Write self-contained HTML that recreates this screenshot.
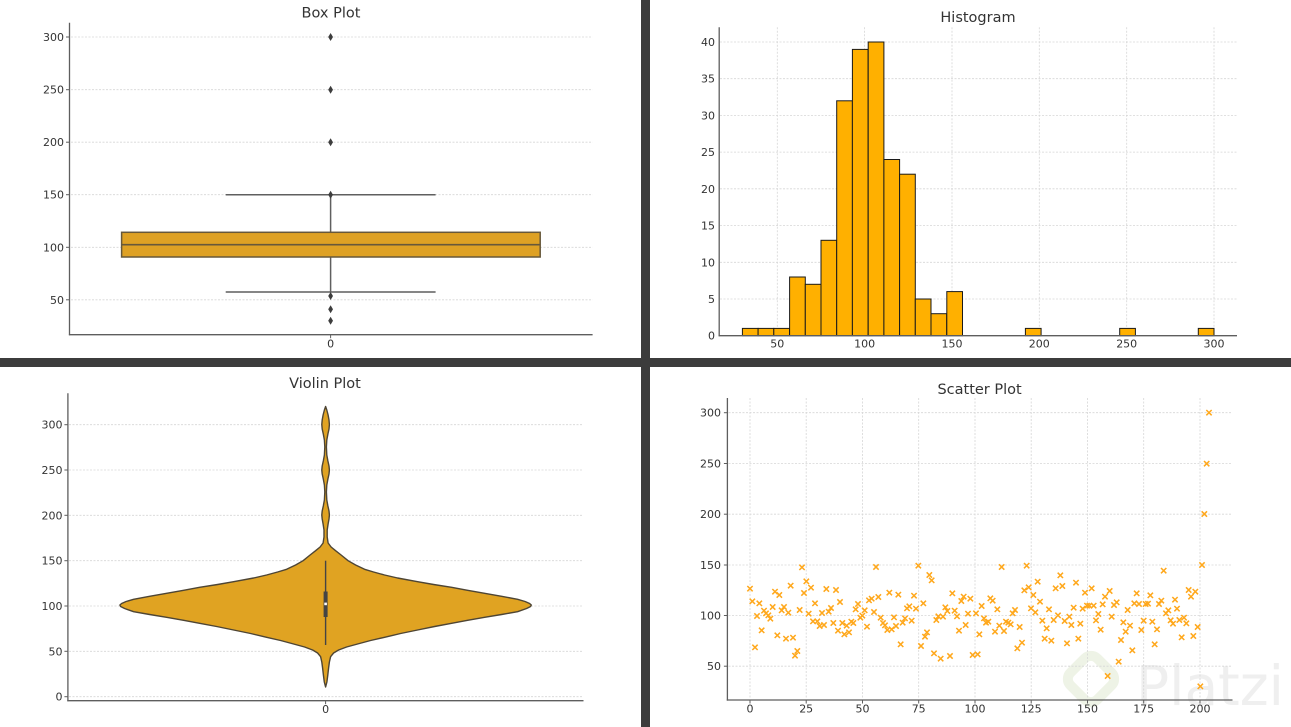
<!DOCTYPE html>
<html><head><meta charset="utf-8">
<style>
html,body{margin:0;padding:0;background:#fff;}
svg{display:block;}
text{font-family:"DejaVu Sans","Liberation Sans",sans-serif;fill:#333;}
.tk{font-size:11px;}
.ti{font-size:14.5px;}
.g{stroke:#d6d6d6;stroke-width:0.8;stroke-dasharray:2,1.5;fill:none;}
.sp{stroke:#5e5e5e;stroke-width:1.3;fill:none;}
.tm{stroke:#5e5e5e;stroke-width:1;}
</style></head>
<body>
<svg width="1291" height="727" viewBox="0 0 1291 727" xmlns="http://www.w3.org/2000/svg">
<defs>
<marker id="mx" markerUnits="userSpaceOnUse" markerWidth="24" markerHeight="24" viewBox="-12 -12 24 24" refX="0" refY="0" overflow="visible">
<path d="M-8,-8 L8,8 M8,-8 L-8,8" stroke="#ffa81c" stroke-width="4.6" fill="none"/>
</marker>
</defs>
<rect x="0" y="0" width="1291" height="727" fill="#fff"/>

<!-- ============ BOX PLOT ============ -->
<g>
<text class="ti" x="331" y="17.5" text-anchor="middle">Box Plot</text>
<line class="g" x1="71" y1="37" x2="592.6" y2="37"/>
<line class="g" x1="71" y1="89.7" x2="592.6" y2="89.7"/>
<line class="g" x1="71" y1="142.2" x2="592.6" y2="142.2"/>
<line class="g" x1="71" y1="194.7" x2="592.6" y2="194.7"/>
<line class="g" x1="71" y1="247.3" x2="592.6" y2="247.3"/>
<line class="g" x1="71" y1="299.8" x2="592.6" y2="299.8"/>
<g class="tk" text-anchor="end">
<text x="64" y="41">300</text>
<text x="64" y="93.7">250</text>
<text x="64" y="146.2">200</text>
<text x="64" y="198.7">150</text>
<text x="64" y="251.3">100</text>
<text x="64" y="303.8">50</text>
</g>
<g class="tm">
<line x1="66" y1="37" x2="69.5" y2="37"/><line x1="66" y1="89.7" x2="69.5" y2="89.7"/>
<line x1="66" y1="142.2" x2="69.5" y2="142.2"/><line x1="66" y1="194.7" x2="69.5" y2="194.7"/>
<line x1="66" y1="247.3" x2="69.5" y2="247.3"/><line x1="66" y1="299.8" x2="69.5" y2="299.8"/>
<line x1="330.6" y1="334.7" x2="330.6" y2="338.2"/>
</g>
<text class="tk" x="330.6" y="347.5" text-anchor="middle">0</text>
<!-- whiskers -->
<line x1="330.6" y1="194.7" x2="330.6" y2="232.3" stroke="#5f5f5f" stroke-width="1.5"/>
<line x1="330.6" y1="257" x2="330.6" y2="292" stroke="#5f5f5f" stroke-width="1.5"/>
<line x1="225.7" y1="194.7" x2="435.6" y2="194.7" stroke="#5f5f5f" stroke-width="1.5"/>
<line x1="225.7" y1="292" x2="435.6" y2="292" stroke="#5f5f5f" stroke-width="1.5"/>
<rect x="121.6" y="232.3" width="418.6" height="24.7" fill="#dea124" stroke="#67583a" stroke-width="1.5"/>
<line x1="121.6" y1="244.7" x2="540.2" y2="244.7" stroke="#67583a" stroke-width="1.6"/>
<!-- outliers -->
<g fill="#3d3d3d">
<path d="M330.6,33 L333,37 L330.6,41 L328.2,37Z"/>
<path d="M330.6,85.7 L333,89.7 L330.6,93.7 L328.2,89.7Z"/>
<path d="M330.6,138.2 L333,142.2 L330.6,146.2 L328.2,142.2Z"/>
<path d="M330.6,190.7 L333,194.7 L330.6,198.7 L328.2,194.7Z"/>
<path d="M330.6,292 L333,296 L330.6,300 L328.2,296Z"/>
<path d="M330.6,305.3 L333,309.3 L330.6,313.3 L328.2,309.3Z"/>
<path d="M330.6,316.7 L333,320.7 L330.6,324.7 L328.2,320.7Z"/>
</g>
<line class="sp" x1="69.5" y1="22.7" x2="69.5" y2="335.3"/>
<line class="sp" x1="68.9" y1="334.7" x2="592.6" y2="334.7"/>
</g>

<!-- ============ HISTOGRAM ============ -->
<g>
<text class="ti" x="978" y="22" text-anchor="middle">Histogram</text>
<g class="g">
<line x1="720" y1="42" x2="1237" y2="42"/><line x1="720" y1="78.7" x2="1237" y2="78.7"/>
<line x1="720" y1="115.4" x2="1237" y2="115.4"/><line x1="720" y1="152.1" x2="1237" y2="152.1"/>
<line x1="720" y1="188.8" x2="1237" y2="188.8"/><line x1="720" y1="225.6" x2="1237" y2="225.6"/>
<line x1="720" y1="262.3" x2="1237" y2="262.3"/><line x1="720" y1="299" x2="1237" y2="299"/>
<line x1="777.3" y1="27.3" x2="777.3" y2="335"/><line x1="864.6" y1="27.3" x2="864.6" y2="335"/>
<line x1="952" y1="27.3" x2="952" y2="335"/><line x1="1039.3" y1="27.3" x2="1039.3" y2="335"/>
<line x1="1126.7" y1="27.3" x2="1126.7" y2="335"/><line x1="1214" y1="27.3" x2="1214" y2="335"/>
</g>
<g class="tk" text-anchor="end">
<text x="715" y="46">40</text><text x="715" y="82.7">35</text><text x="715" y="119.4">30</text>
<text x="715" y="156.1">25</text><text x="715" y="192.8">20</text><text x="715" y="229.6">15</text>
<text x="715" y="266.3">10</text><text x="715" y="303">5</text><text x="715" y="339.7">0</text>
</g>
<g class="tk" text-anchor="middle">
<text x="777.3" y="347.5">50</text><text x="864.6" y="347.5">100</text><text x="952" y="347.5">150</text>
<text x="1039.3" y="347.5">200</text><text x="1126.7" y="347.5">250</text><text x="1214" y="347.5">300</text>
</g>
<g fill="#ffb000" stroke="#1a1a1a" stroke-width="1">
<rect x="742.4" y="328.4" width="15.7" height="7.3"/>
<rect x="758.1" y="328.4" width="15.7" height="7.3"/>
<rect x="773.8" y="328.4" width="15.7" height="7.3"/>
<rect x="789.6" y="277" width="15.7" height="58.7"/>
<rect x="805.3" y="284.3" width="15.7" height="51.4"/>
<rect x="821" y="240.3" width="15.7" height="95.4"/>
<rect x="836.7" y="100.8" width="15.7" height="234.9"/>
<rect x="852.4" y="49.4" width="15.7" height="286.3"/>
<rect x="868.2" y="42" width="15.7" height="293.7"/>
<rect x="883.9" y="159.5" width="15.7" height="176.2"/>
<rect x="899.6" y="174.2" width="15.7" height="161.5"/>
<rect x="915.3" y="299" width="15.7" height="36.7"/>
<rect x="931" y="313.7" width="15.7" height="22"/>
<rect x="946.8" y="291.6" width="15.7" height="44.1"/>
<rect x="1025.4" y="328.4" width="15.7" height="7.3"/>
<rect x="1119.7" y="328.4" width="15.7" height="7.3"/>
<rect x="1198.3" y="328.4" width="15.7" height="7.3"/>
</g>
<line class="sp" x1="719.2" y1="27.3" x2="719.2" y2="336.3"/>
<line class="sp" x1="718.6" y1="335.7" x2="1237" y2="335.7"/>
</g>

<!-- ============ VIOLIN ============ -->
<g>
<text class="ti" x="325" y="388" text-anchor="middle">Violin Plot</text>
<g class="g">
<line x1="69" y1="424.7" x2="583.5" y2="424.7"/><line x1="69" y1="470" x2="583.5" y2="470"/>
<line x1="69" y1="515.3" x2="583.5" y2="515.3"/><line x1="69" y1="560.7" x2="583.5" y2="560.7"/>
<line x1="69" y1="606" x2="583.5" y2="606"/><line x1="69" y1="651.3" x2="583.5" y2="651.3"/>
<line x1="69" y1="696.7" x2="583.5" y2="696.7"/>
</g>
<g class="tk" text-anchor="end">
<text x="62.5" y="428.7">300</text><text x="62.5" y="474">250</text><text x="62.5" y="519.3">200</text>
<text x="62.5" y="564.7">150</text><text x="62.5" y="610">100</text><text x="62.5" y="655.3">50</text>
<text x="62.5" y="700.7">0</text>
</g>
<g class="tm">
<line x1="64.4" y1="424.7" x2="67.9" y2="424.7"/><line x1="64.4" y1="470" x2="67.9" y2="470"/>
<line x1="64.4" y1="515.3" x2="67.9" y2="515.3"/><line x1="64.4" y1="560.7" x2="67.9" y2="560.7"/>
<line x1="64.4" y1="606" x2="67.9" y2="606"/><line x1="64.4" y1="651.3" x2="67.9" y2="651.3"/>
<line x1="64.4" y1="696.7" x2="67.9" y2="696.7"/>
<line x1="325.6" y1="700.7" x2="325.6" y2="704.2"/>
</g>
<text class="tk" x="325.6" y="713" text-anchor="middle">0</text>
<path fill="#e0a322" stroke="#4e4534" stroke-width="1.4" stroke-linejoin="round" d="
M325.6,406.5
L326.8,410 L328.1,415 L329,420 L329.4,424.5 L329,429 L327.9,434 L326.8,440 L326.4,447 L326.8,455 L327.9,461 L329,466 L329.4,470 L329,474 L327.9,479 L326.8,485 L326.4,492 L326.8,500 L327.9,506 L329,511 L329.4,515 L329,519 L328.1,524 L327.2,530 L327.2,537 L328.1,543 L331.1,547 L335.6,550.7 L341.1,555 L348.1,560.7 L355.6,565 L364.6,569.3 L373.6,572 L384.6,575 L397.6,578 L417.6,581.7 L433.6,584.5 L451.6,587.3 L467.6,590.3 L484.6,593.3 L501.6,596.3 L517.6,599.3 L525.1,601.5 L529.6,603.5 L531.3,605 L530.6,606.5 L526.6,608.5 L517.6,611.7 L501.6,614.5 L484.6,617.3 L467.6,620.3 L451.6,623.3 L434.6,626.5 L417.6,630 L400.6,633.5 L384.6,637.3 L370.6,640.5 L357.6,644 L346.6,647 L338.6,650 L333.6,653 L330.6,656.7 L329.4,662 L328.6,668 L327.8,675 L326.9,682 L325.6,687
L324.3,682 L323.4,675 L322.6,668 L321.8,662 L320.6,656.7 L317.6,653 L312.6,650 L304.6,647 L293.6,644 L280.6,640.5 L266.6,637.3 L250.6,633.5 L233.6,630 L216.6,626.5 L199.6,623.3 L183.6,620.3 L166.6,617.3 L149.6,614.5 L133.6,611.7 L124.6,608.5 L120.6,606.5 L119.9,605 L121.6,603.5 L126.1,601.5 L133.6,599.3 L149.6,596.3 L166.6,593.3 L183.6,590.3 L199.6,587.3 L217.6,584.5 L233.6,581.7 L253.6,578 L266.6,575 L277.6,572 L286.6,569.3 L295.6,565 L303.1,560.7 L310.1,555 L315.6,550.7 L320.1,547 L323.1,543 L324,537 L324,530 L323.1,524 L322.2,519 L321.8,515 L322.2,511 L323.3,506 L324.4,500 L324.8,492 L324.4,485 L323.3,479 L322.2,474 L321.8,470 L322.2,466 L323.3,461 L324.4,455 L324.8,447 L324.4,440 L323.3,434 L322.2,429 L321.8,424.5 L322.2,420 L323.1,415 L324.4,410 Z"/>
<line x1="325.6" y1="560.7" x2="325.6" y2="645" stroke="#444" stroke-width="1.4"/>
<rect x="323.6" y="591.5" width="4" height="25.5" fill="#444"/>
<rect x="324.3" y="602.6" width="2.6" height="2.6" fill="#fff"/>
<line class="sp" x1="67.9" y1="393.3" x2="67.9" y2="701.3"/>
<line class="sp" x1="67.3" y1="700.7" x2="583.5" y2="700.7"/>
</g>

<!-- ============ SCATTER ============ -->
<g>
<!-- watermark -->
<g opacity="1">
<rect x="1072" y="660" width="38" height="38" rx="9" transform="rotate(45 1091 679)" fill="none" stroke="#eef3e6" stroke-width="10"/>
<text x="1136" y="705" style="font-family:'DejaVu Sans','Liberation Sans',sans-serif;font-size:55px;fill:#efefef;">Platzi</text>
</g>
<text class="ti" x="979.6" y="394" text-anchor="middle">Scatter Plot</text>
<g class="g">
<line x1="728.5" y1="412.7" x2="1232" y2="412.7"/><line x1="728.5" y1="463.5" x2="1232" y2="463.5"/>
<line x1="728.5" y1="514.2" x2="1232" y2="514.2"/><line x1="728.5" y1="565" x2="1232" y2="565"/>
<line x1="728.5" y1="615.5" x2="1232" y2="615.5"/><line x1="728.5" y1="666.2" x2="1232" y2="666.2"/>
<line x1="750" y1="398" x2="750" y2="699"/><line x1="806.2" y1="398" x2="806.2" y2="699"/>
<line x1="862.5" y1="398" x2="862.5" y2="699"/><line x1="918.7" y1="398" x2="918.7" y2="699"/>
<line x1="975" y1="398" x2="975" y2="699"/><line x1="1031.2" y1="398" x2="1031.2" y2="699"/>
<line x1="1087.5" y1="398" x2="1087.5" y2="699"/><line x1="1143.7" y1="398" x2="1143.7" y2="699"/>
<line x1="1200" y1="398" x2="1200" y2="699"/>
</g>
<g class="tk" text-anchor="end">
<text x="721" y="416.7">300</text><text x="721" y="467.5">250</text><text x="721" y="518.2">200</text>
<text x="721" y="569">150</text><text x="721" y="619.5">100</text><text x="721" y="670.2">50</text>
</g>
<g class="tm">
<line x1="723.9" y1="412.7" x2="727.4" y2="412.7"/><line x1="723.9" y1="463.5" x2="727.4" y2="463.5"/>
<line x1="723.9" y1="514.2" x2="727.4" y2="514.2"/><line x1="723.9" y1="565" x2="727.4" y2="565"/>
<line x1="723.9" y1="615.5" x2="727.4" y2="615.5"/><line x1="723.9" y1="666.2" x2="727.4" y2="666.2"/>
<line x1="750" y1="700" x2="750" y2="703.5"/><line x1="806.2" y1="700" x2="806.2" y2="703.5"/>
<line x1="862.5" y1="700" x2="862.5" y2="703.5"/><line x1="918.7" y1="700" x2="918.7" y2="703.5"/>
<line x1="975" y1="700" x2="975" y2="703.5"/><line x1="1031.2" y1="700" x2="1031.2" y2="703.5"/>
<line x1="1087.5" y1="700" x2="1087.5" y2="703.5"/><line x1="1143.7" y1="700" x2="1143.7" y2="703.5"/>
<line x1="1200" y1="700" x2="1200" y2="703.5"/>
</g>
<g class="tk" text-anchor="middle">
<text x="750" y="712.5">0</text><text x="806.2" y="712.5">25</text><text x="862.5" y="712.5">50</text>
<text x="918.7" y="712.5">75</text><text x="975" y="712.5">100</text><text x="1031.2" y="712.5">125</text>
<text x="1087.5" y="712.5">150</text><text x="1143.7" y="712.5">175</text><text x="1200" y="712.5">200</text>
</g>
<g transform="translate(725,395) scale(0.333333)">
<polyline fill="none" stroke="none" marker-start="url(#mx)" marker-mid="url(#mx)" marker-end="url(#mx)" points="75,581 82,619 90,757 96,663 103,625 110,706 117,647 123,655 130,661 136,671 143,636 150,590 157,721 163,600 170,646 177,636 183,731 190,653 197,572 204,728 210,782 217,768 224,645 231,517 237,594 244,559 251,656 258,578 264,679 270,625 277,679 284,693 291,654 297,690 304,582 311,650 318,639 325,684 333,585 339,707 345,621 352,684 358,718 365,692 372,712 379,680 385,684 392,643 399,627 406,668 412,662 419,646 426,695 432,616 440,611 447,651 453,516 460,606 467,668 474,684 480,691 487,705 493,593 500,703 507,667 513,693 520,599 527,748 533,683 540,670 546,640 553,634 560,677 567,602 573,641 580,512 588,753 595,625 600,725 606,712 613,540 620,556 627,775 634,675 640,664 647,791 654,665 661,637 667,648 675,783 682,595 689,647 696,664 702,707 709,618 716,605 722,690 729,656 736,611 743,780 753,655 758,778 763,718 770,633 777,670 783,683 790,680 796,610 803,617 810,710 817,643 823,692 830,516 837,708 843,680 850,683 857,688 863,655 870,645 877,760 884,696 891,743 898,586 905,512 911,577 918,640 925,600 931,652 938,560 945,620 952,677 959,731 965,700 972,643 979,737 986,675 992,580 999,661 1006,541 1012,573 1019,678 1026,745 1033,665 1039,690 1046,638 1053,563 1060,731 1066,686 1073,641 1080,593 1086,632 1093,632 1100,580 1106,632 1113,676 1120,657 1127,704 1133,628 1140,605 1148,843 1154,588 1160,665 1167,630 1175,622 1181,800 1188,735 1195,682 1202,710 1208,645 1215,692 1222,766 1228,625 1235,595 1242,627 1249,705 1256,677 1262,627 1269,626 1276,601 1282,680 1289,748 1296,703 1302,627 1309,617 1316,527 1323,655 1330,646 1337,676 1344,686 1350,614 1356,641 1363,675 1370,727 1377,668 1384,685 1391,585 1398,605 1405,723 1411,590 1418,696 1426,874 1431,510 1438,357 1445,206 1452,53"/>
</g>
<line class="sp" x1="727.4" y1="398" x2="727.4" y2="700.6"/>
<line class="sp" x1="726.8" y1="700" x2="1232.5" y2="700"/>
</g>

<!-- ============ SEPARATORS ============ -->
<rect x="641" y="0" width="9" height="727" fill="#3c3c3c"/>
<rect x="0" y="358" width="1291" height="9" fill="#3c3c3c"/>
</svg>
</body></html>
